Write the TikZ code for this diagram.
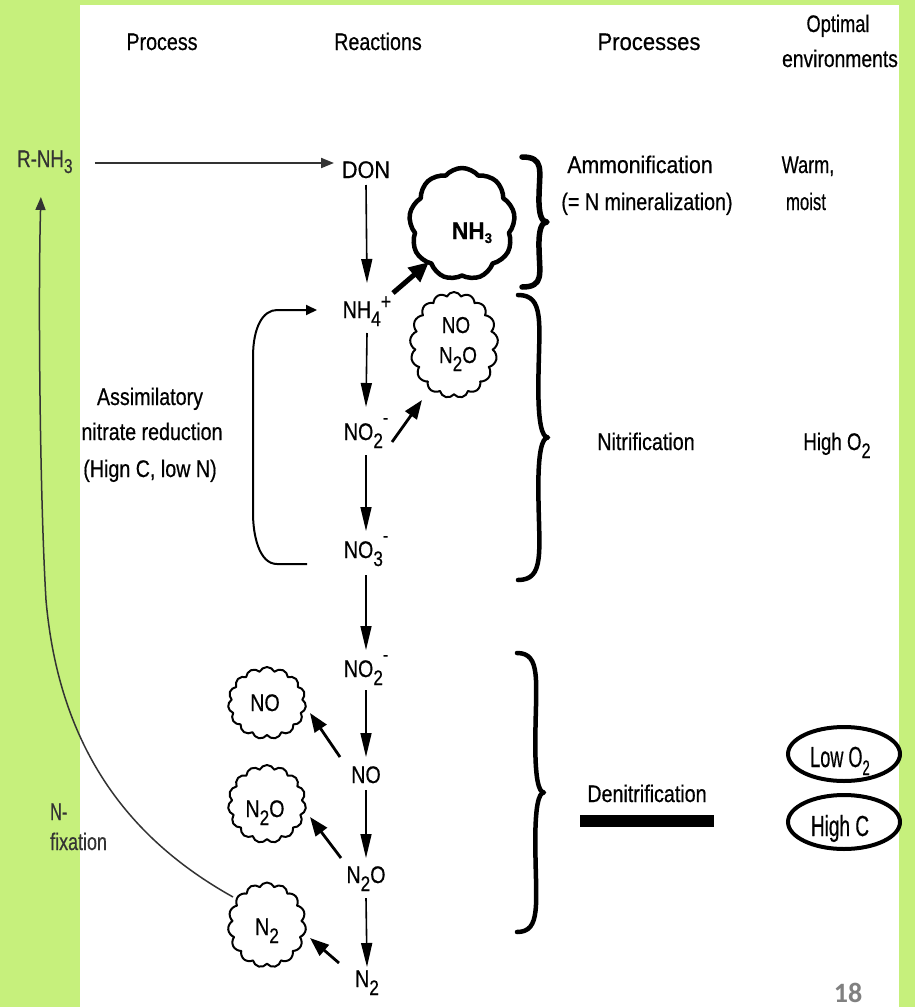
\documentclass[tikz,border=0pt]{standalone}
\usepackage{fontspec}
\setmainfont{Liberation Sans}[FakeStretch=0.82,FakeBold=0.5]
\newfontfamily\numfont{Carlito}
\usepackage{graphicx}
\usetikzlibrary{arrows.meta,shapes.symbols,shapes.geometric,calc}
\definecolor{bggreen}{HTML}{C6F07C}
\definecolor{dgray}{HTML}{333333}
\newcommand\sx[2]{\scalebox{#1}[1]{#2}}
\newcommand\sbs[1]{\raisebox{-8pt}{\fontsize{21}{21}\selectfont #1}}
\newcommand\spm{\raisebox{16pt}{\fontsize{19}{19}\selectfont -}}
\newcommand\spp{\raisebox{9pt}{\fontsize{22}{22}\selectfont +}}
\newcommand\mybrace[4]{%
 \draw[brc] (#1,#3) .. controls ({#1+0.9*#2},{#3}) and ({#1+0.7*#2},{#3+0.1*(#4-#3)}) .. ({#1+0.68*#2},{#3+0.3*(#4-#3)})
  .. controls ({#1+0.66*#2},{#3+0.45*(#4-#3)}) and ({#1+0.8*#2},{#3+0.5*(#4-#3)}) .. ({#1+#2},{#3+0.5*(#4-#3)})
  .. controls ({#1+0.8*#2},{#3+0.5*(#4-#3)}) and ({#1+0.66*#2},{#3+0.55*(#4-#3)}) .. ({#1+0.68*#2},{#3+0.7*(#4-#3)})
  .. controls ({#1+0.7*#2},{#3+0.9*(#4-#3)}) and ({#1+0.9*#2},{#4}) .. (#1,#4);}
\begin{document}
\begin{tikzpicture}[x=1pt,y=-1pt,
 txt/.style={inner sep=0pt,anchor=base,font=\fontsize{24}{28}\selectfont,text=black},
 gtxt/.style={txt,text=dgray},
 varrow/.style={line width=1.6pt,-{Triangle[length=24pt,width=11pt]}},
 sarrow/.style={line width=2.8pt,-{Triangle[length=19pt,width=14pt]}},
 barrow/.style={line width=5pt,-{Triangle[length=20pt,width=18pt]}},
 harrow/.style={line width=2pt,draw=dgray,-{Triangle[length=13pt,width=10pt]}},
 brk/.style={line width=2pt,-{Triangle[length=11pt,width=10pt]}},
 fix/.style={line width=1.5pt,draw=dgray,-{Triangle[length=13pt,width=10pt]}},
 brc/.style={line width=4.5pt,line cap=round,line join=round},
 tcloud/.style={cloud,cloud puffs=15,cloud puff arc=130,cloud ignores aspect,draw,line width=2pt,inner sep=0pt,line join=round},
 bcloud/.style={cloud,cloud puffs=9,cloud puff arc=100,cloud ignores aspect,draw,line width=4.5pt,inner sep=0pt,line join=round},
 envell/.style={ellipse,draw,line width=4pt,inner sep=0pt,minimum width=112pt,minimum height=54pt},
]
\useasboundingbox (0,0) rectangle (915,1007);
\fill[bggreen] (0,0) rectangle (915,1007);
\fill[white] (80,5) rectangle (899,1007);

% headers
\node[txt] (hproc) at (162,50) {Process};
\node[txt] (hreac) at (378,50) {Reactions};
\node[txt] (hprocs) at (649,50) {\sx{1.12}{Processes}};
\node[txt] (hopt1) at (838,32) {\sx{0.93}{Optimal}};
\node[txt] (hopt2) at (840,67) {\sx{0.98}{environments}};

% left texts
\node[gtxt,anchor=base west] (rnh3) at (17,167) {\sx{0.95}{R-NH\raisebox{-6pt}{\fontsize{20}{20}\selectfont 3}}};
\node[txt] (ass1) at (150,405) {Assimilatory};
\node[txt] (ass2) at (152,440) {nitrate reduction};
\node[txt] (ass3) at (150,477) {(Hign C, low N)};
\node[gtxt,anchor=base west] (nf1) at (50,820) {\sx{0.82}{N-}};
\node[gtxt,anchor=base west] (nf2) at (50,850) {\sx{0.91}{fixation}};

% chain
\node[txt] (don) at (366,178) {\sx{1.1}{DON}};
\node[txt] (nh4) at (367,318) {NH\sbs{4}\spp};
\node[txt] (no2a) at (366,440) {NO\sbs{2}\spm};
\node[txt] (no3) at (366,558) {NO\sbs{3}\spm};
\node[txt] (no2b) at (366,677) {NO\sbs{2}\spm};
\node[txt] (no) at (366,783) {NO};
\node[txt] (n2o) at (366,883) {N\sbs{2}O};
\node[txt] (n2) at (367,987) {N\sbs{2}};

\draw[varrow] ($(don.base)+(0,7)$) -- ($(nh4.base)+(0,-35)$);
\draw[varrow] ($(nh4.base)+(0,15)$) -- ($(no2a.base)+(0,-33)$);
\draw[varrow] ($(no2a.base)+(0,15)$) -- ($(no3.base)+(0,-27)$);
\draw[varrow] ($(no3.base)+(0,17)$) -- ($(no2b.base)+(0,-27)$);
\draw[varrow] ($(no2b.base)+(0,13)$) -- ($(no.base)+(0,-26)$);
\draw[varrow] ($(no.base)+(0,7)$) -- ($(n2o.base)+(0,-25)$);
\draw[varrow] ($(n2o.base)+(0,15)$) -- ($(n2.base)+(0,-20)$);

% clouds
\node[bcloud,minimum width=106pt,minimum height=112pt] (cnh3) at (462,224) {};
\node[txt,font=\bfseries\fontsize{24}{26}\selectfont] (tnh3) at (472,239) {\sx{1.15}{NH\raisebox{-4pt}{\fontsize{14}{14}\selectfont 3}}};
\node[tcloud,cloud puffs=17,minimum width=88pt,minimum height=106pt] (cno1) at (454,345) {};
\node[txt,font=\fontsize{23}{24}\selectfont] (tno1) at (456,333) {NO};
\node[txt,font=\fontsize{23}{24}\selectfont] (tn2o1) at (458,363) {N\sbs{2}O};
\node[tcloud,minimum width=78pt,minimum height=72pt] (cnoa) at (267,703) {};
\node[txt] (tnoa) at (265,711) {NO};
\node[tcloud,minimum width=78pt,minimum height=78pt] (cn2o) at (267,804) {};
\node[txt] (tn2o) at (265,817) {N\sbs{2}O};
\node[tcloud,minimum width=78pt,minimum height=85pt] (cn2) at (267,925) {};
\node[txt] (tn2) at (267,935) {N\sbs{2}};

\draw[barrow] ($(nh4.base)+(26,-25)$) -- ($(cnh3.center)+(-33,38)$);
\draw[sarrow] ($(no2a.base)+(26,2)$) -- ($(cno1.center)+(-32,55)$);
\draw[sarrow] ($(no.base)+(-26,-26)$) -- ($(cnoa.center)+(43,10)$);
\draw[sarrow] ($(n2o.base)+(-25,-25)$) -- ($(cn2o.center)+(43,13)$);
\draw[sarrow] ($(n2.base)+(-28,-24)$) -- ($(cn2.center)+(43,13)$);

% R-NH3 -> DON
\draw[harrow] ($(rnh3.base)+(50,-4)$) -- ($(don.base)+(-32,-15)$);

% assimilatory bracket
\draw[brk] ($(no3.base)+(-59,6)$) -- ++(-30,0) .. controls +(-18,0) and +(0,22) .. ++(-24,-51)
  -- ++(0,-156) .. controls +(0,-30) and +(-14,0) .. ++(24,-47) -- ($(nh4.base)+(-50,-8)$);

% N-fixation
\draw[fix] ($(cn2.center)+(-34,-28)$) .. controls (140,845) and (60,760) .. (46,600)
  .. controls (40,500) and (38,300) .. ($(rnh3.base)+(-4,30)$);

% braces
\begin{scope}[brc/.append style={line width=5.5pt}]
\mybrace{522}{25}{157}{287}
\end{scope}
\mybrace{518}{30}{295}{580}
\mybrace{517}{27}{653}{932}

% right texts
\node[txt] (amm1) at (640,173) {\sx{1.08}{Ammonification}};
\node[txt] (amm2) at (647,210) {(= N mineralization)};
\node[txt] (env1) at (808,173) {\sx{0.92}{Warm,}};
\node[txt] (env2) at (806,210) {\sx{0.85}{moist}};
\node[txt] (nit) at (646,450) {Nitrification};
\node[txt] (env3) at (837,450) {\sx{0.95}{High O\sbs{2}}};
\node[txt] (den) at (647,802) {Denitrification};
\node[fill,inner sep=0pt,minimum width=134pt,minimum height=12pt] (bar) at (647,821) {};
\node[envell] (elow) at (844,754) {};
\node[envell] (ehigh) at (844,822) {};
\node[txt,font=\fontsize{29}{34}\selectfont] (tlow) at (840,767) {\sx{0.76}{Low O\sbs{2}}};
\node[txt,font=\fontsize{29}{34}\selectfont] (thigh) at (840,836) {\sx{0.8}{High C}};

\node[inner sep=0pt,anchor=base,text=gray,font=\numfont\bfseries\fontsize{28}{28}\selectfont] (pg) at (848,1002) {18};
\end{tikzpicture}
\end{document}
